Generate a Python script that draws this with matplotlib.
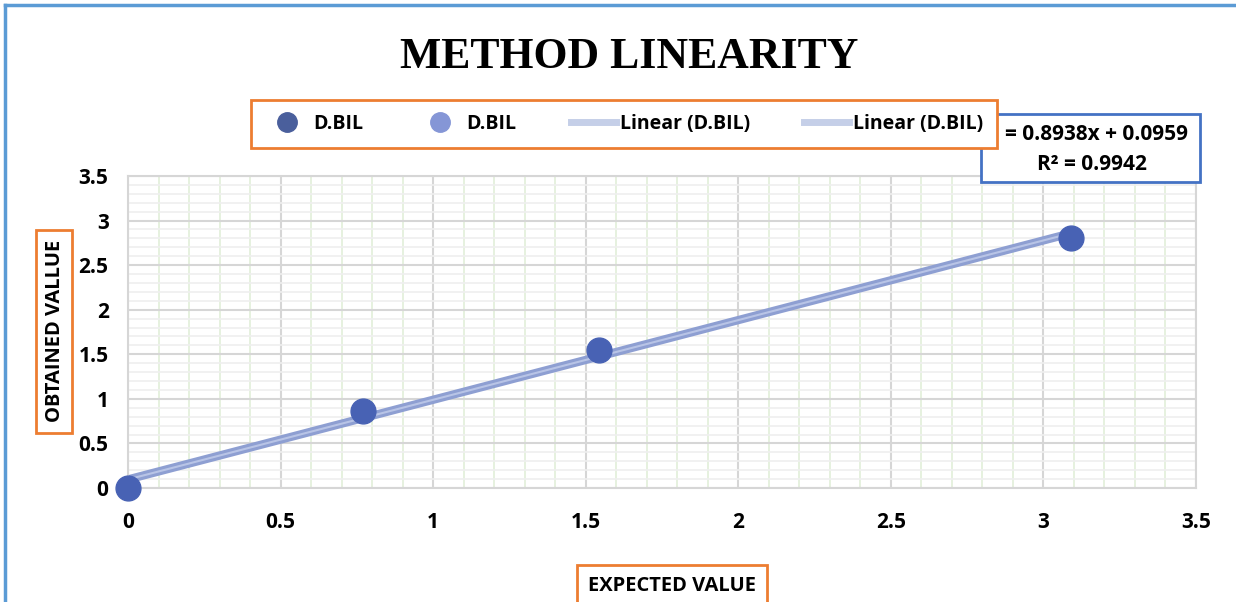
import numpy as np
import matplotlib.pyplot as plt
from matplotlib.patches import Rectangle
from matplotlib.lines import Line2D
from matplotlib.ticker import MultipleLocator, FormatStrFormatter

# data
expected = [0, 0.77, 1.545, 3.09]
obtained = [0, 0.86, 1.55, 2.80]
slope, intercept = 0.8938, 0.0959
r2 = 0.9942

W, H = 1236, 602
fig = plt.figure(figsize=(W/100, H/100), dpi=100)
sans = ['Open Sans', 'DejaVu Sans']

ax = fig.add_axes([128/W, 1-488/H, (1196-128)/W, (488-176)/H])
ax.set_xlim(0, 3.5)
ax.set_ylim(0, 3.5)
ax.xaxis.set_major_locator(MultipleLocator(0.5))
ax.yaxis.set_major_locator(MultipleLocator(0.5))
ax.xaxis.set_minor_locator(MultipleLocator(0.1))
ax.yaxis.set_minor_locator(MultipleLocator(0.1))
ax.xaxis.set_major_formatter(FormatStrFormatter('%g'))
ax.yaxis.set_major_formatter(FormatStrFormatter('%g'))
ax.grid(which='minor', axis='x', color='#e2efd9', lw=1.2)
ax.grid(which='minor', axis='y', color='#efefef', lw=1.2)
ax.grid(which='major', color='#d6d6d6', lw=1.5)
ax.set_axisbelow(True)
for s in ax.spines.values():
    s.set_color('#d6d6d6')
    s.set_linewidth(1.5)
ax.tick_params(which='both', length=0)
ax.tick_params(axis='x', pad=17)
ax.tick_params(axis='y', pad=14)
for lab in ax.get_xticklabels() + ax.get_yticklabels():
    lab.set_fontfamily(sans)
    lab.set_fontweight('bold')
    lab.set_fontsize(15)

# trendline
xt = np.array([0, max(expected)])
ax.plot(xt, slope*xt + intercept, color='#8e9fd2', lw=6, solid_capstyle='butt', zorder=2)
ax.plot(xt, slope*xt + intercept, color='#b8c4e6', lw=1.5, solid_capstyle='butt', zorder=2)
ax.scatter(expected, obtained, s=320, color='#4862b4', zorder=3, clip_on=False)

# title
fig.text(629/W, 1-57/H, 'METHOD LINEARITY', ha='center', va='center',
         fontsize=31.5, fontweight='bold', family=['Liberation Serif', 'DejaVu Serif'])

# equation box (its "y" is hidden behind the legend)
fig.patches.append(Rectangle((981/W, 1-182/H), 219/W, 68/H, transform=fig.transFigure,
                             fill=True, facecolor='white', edgecolor='#4472c4', lw=2, zorder=1))
fig.text(1005/W, 1-134/H, '= %.4fx + %.4f' % (slope, intercept), ha='left', va='center',
         fontsize=15, fontweight='bold', family=sans, zorder=2)
fig.text(1092/W, 1-164/H, 'R² = %.4f' % r2, ha='center', va='center',
         fontsize=15, fontweight='bold', family=sans, zorder=2)

# legend
handles = [
    Line2D([], [], ls='none', marker='o', ms=14, color='#4a5f9c'),
    Line2D([], [], ls='none', marker='o', ms=14, color='#8596d6'),
    Line2D([], [], color='#c5cfe8', lw=5),
    Line2D([], [], color='#c5cfe8', lw=5),
]
labels = ['D.BIL', 'D.BIL', 'Linear (D.BIL)', 'Linear (D.BIL)']
leg = fig.legend(handles, labels, ncol=4, loc='center', bbox_to_anchor=(624/W, 1-124/H),
                 frameon=True, fancybox=False, edgecolor='#ed7d31', framealpha=1,
                 prop={'family': sans, 'weight': 'bold', 'size': 14},
                 handlelength=2.3, handletextpad=0.2, columnspacing=2.8, borderpad=0.7)
leg.get_frame().set_linewidth(2)
leg.set_zorder(5)

# axis titles in orange boxes
fig.patches.append(Rectangle((36/W, 1-433/H), 36/W, 203/H, transform=fig.transFigure,
                             fill=False, edgecolor='#ed7d31', lw=2))
fig.text(55/W, 1-331/H, 'OBTAINED VALLUE', rotation=90, ha='center', va='center',
         fontsize=14.5, fontweight='bold', family=sans)
fig.patches.append(Rectangle((577/W, 1-612/H), 190/W, 47/H, transform=fig.transFigure,
                             fill=False, edgecolor='#ed7d31', lw=2))
fig.text(672/W, 1-586/H, 'EXPECTED VALUE', ha='center', va='center',
         fontsize=14.5, fontweight='bold', family=sans)

# outer blue frame (top and left edges visible)
fig.add_artist(Line2D([5/W, 5/W], [0, 1-5/H], transform=fig.transFigure, color='#5b9bd5', lw=2.5))
fig.add_artist(Line2D([5/W, 1], [1-5/H, 1-5/H], transform=fig.transFigure, color='#5b9bd5', lw=2.5))

fig.savefig('out.png', dpi=100)
